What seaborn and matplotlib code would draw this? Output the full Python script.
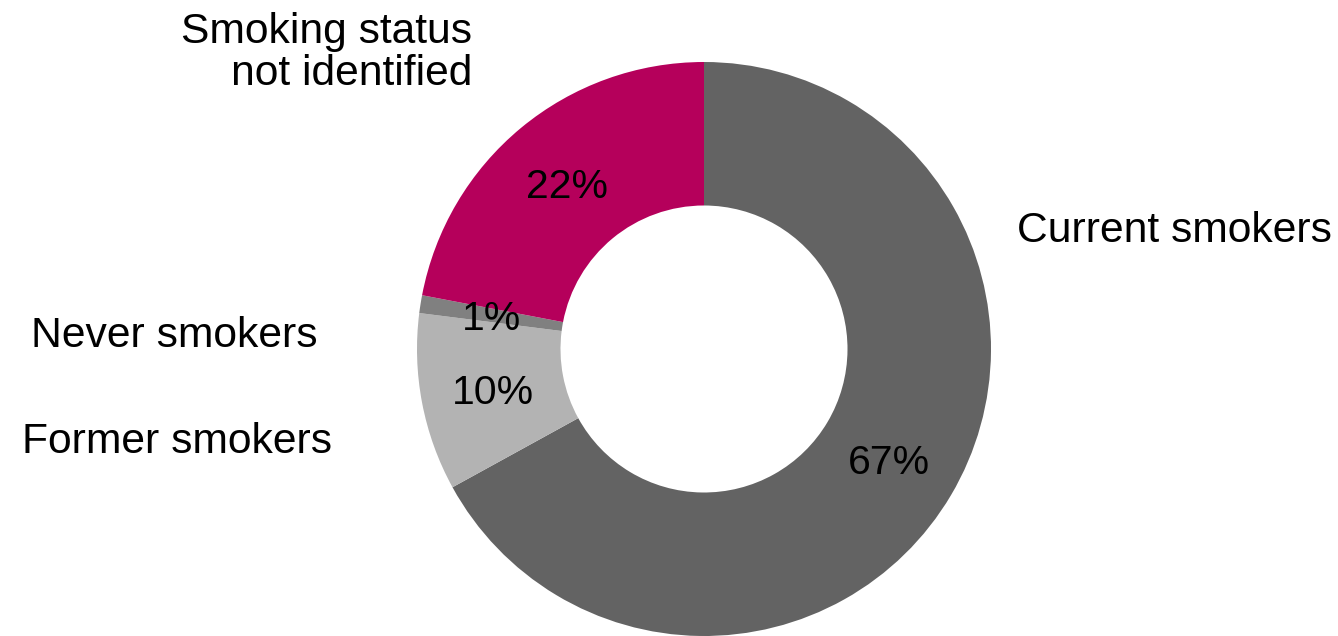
import matplotlib
matplotlib.use("Agg")
import matplotlib.pyplot as plt
import seaborn as sns

# Smoking status breakdown (percent of respondents)
categories = ["Current smokers", "Former smokers", "Never smokers",
              "Smoking status\nnot identified"]
shares = [67, 10, 1, 22]
colors = ["#636363", "#b3b3b3", "#808080", "#b5005b"]

sns.set_theme(style="white")
plt.rcParams["font.family"] = ["Liberation Sans", "DejaVu Sans"]

W, H, DPI = 1338, 636, 100
fig = plt.figure(figsize=(W / DPI, H / DPI), dpi=DPI)
ax = fig.add_axes([0, 0, 1, 1])

palette = sns.color_palette(colors)
wedges, _, autotexts = ax.pie(
    shares,
    colors=palette,
    startangle=90,
    counterclock=False,
    radius=1.0,
    autopct=lambda p: f"{p:.0f}%",
    pctdistance=0.75,
    wedgeprops=dict(width=0.5, linewidth=0),
    textprops=dict(fontsize=29.5, color="black"),
)
for t in autotexts:
    t.set_va("center_baseline")

# Place the donut: centre at (704, 349) px, outer radius 287 px
cx, cy, r = 704, 349, 287
ax.set_xlim(-cx / r, (W - cx) / r)
ax.set_ylim(-(H - cy) / r, cy / r)
ax.axis("off")


def px(x, y):
    return (x - cx) / r, (cy - y) / r


label_style = dict(fontsize=30.7, color="black")
ax.text(*px(1017, 242), categories[0], ha="left", va="baseline", **label_style)
ax.text(*px(22, 453), categories[1], ha="left", va="baseline", **label_style)
ax.text(*px(31, 347), categories[2], ha="left", va="baseline", **label_style)
ax.text(*px(472, 85), categories[3], ha="right", va="baseline",
        multialignment="right", linespacing=1.08, **label_style)

fig.savefig("out.png", dpi=DPI, facecolor="white")
